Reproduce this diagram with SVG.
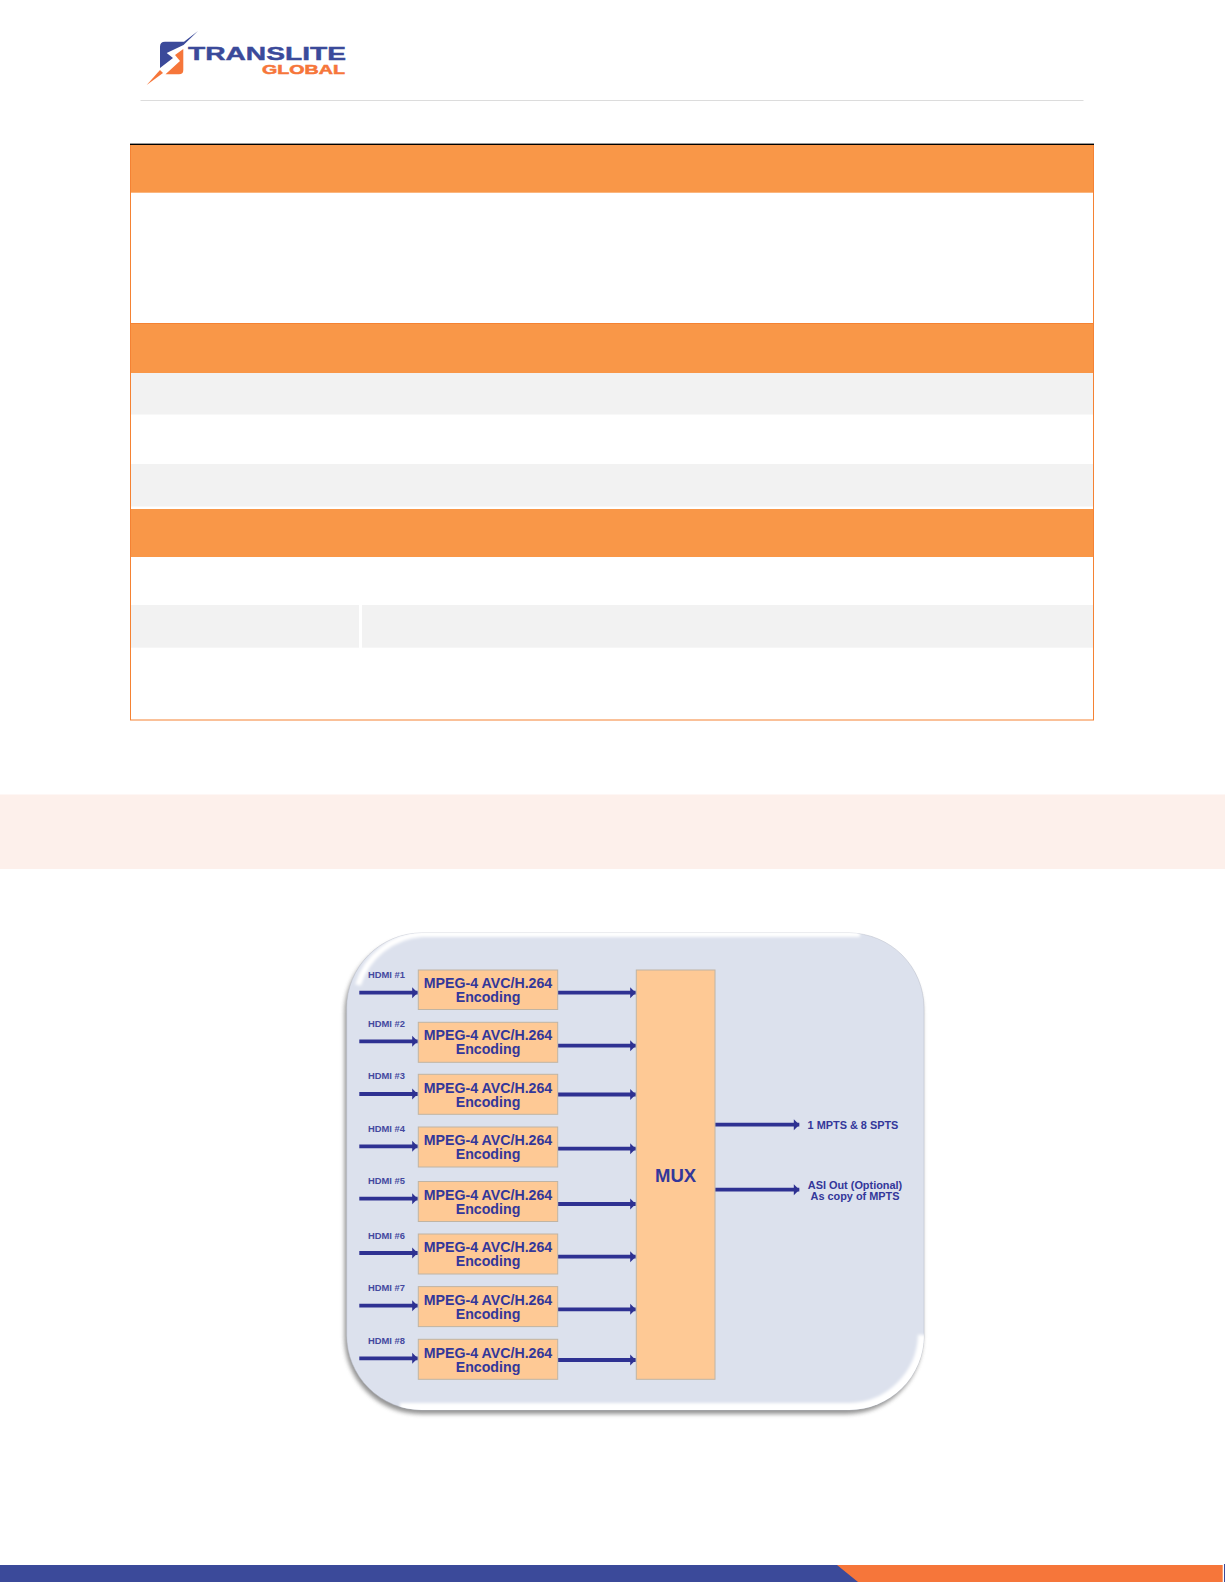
<svg xmlns="http://www.w3.org/2000/svg" width="1225" height="1585" viewBox="0 0 1225 1585">
<style>
.hd{fill:#f99748}
.gr{fill:#f2f2f2}
.box{fill:#fec995;stroke:#c0b4a4;stroke-width:1}
.t{font-family:"Liberation Sans",Arial,sans-serif;font-weight:700;fill:#33379a;text-anchor:middle}
.enc{font-size:14.2px}
.hdmi{font-size:9.4px;fill:#44499f}
.out{font-size:10.9px}
.wire{stroke:#2e3192;stroke-width:3.8;fill:none;marker-end:url(#ah)}
</style>
<defs>
<marker id="ah" markerUnits="userSpaceOnUse" markerWidth="7" markerHeight="13" refX="6" refY="6.5" orient="auto"><path d="M0.5 1L6 6.5L0.5 12Z" fill="#2e3192"/></marker>
<filter id="sh" x="-5%" y="-5%" width="110%" height="110%"><feGaussianBlur stdDeviation="2.2"/></filter>
<filter id="soft" x="-5%" y="-5%" width="110%" height="110%"><feGaussianBlur stdDeviation="1.8"/></filter>
<clipPath id="pc"><rect x="346.7" y="933" width="577.3" height="477" rx="75"/></clipPath>
</defs>
<rect width="1225" height="1585" fill="#fff"/>
<g id="logo">
<path d="M165 41.7H184L198 31L183.5 45L166.7 53L173 58L160 68V46.7Q160 41.7 165 41.7Z" fill="#3b4a9a"/>
<path d="M183.3 49V70Q183.3 74.3 179 74.3H165.5L180 61L175 55Z" fill="#f6763a"/>
<path d="M146.7 85L160 70L163 73Z" fill="#f6763a"/>
<text x="188" y="59.6" font-family="'Liberation Sans',Arial,sans-serif" font-weight="700" font-size="18" fill="#3b4a9a" stroke="#3b4a9a" stroke-width=".4" textLength="158" lengthAdjust="spacingAndGlyphs">TRANSLITE</text>
<text x="262" y="74.4" font-family="'Liberation Sans',Arial,sans-serif" font-weight="700" font-size="12.5" fill="#f6763a" stroke="#f6763a" stroke-width=".5" textLength="83" lengthAdjust="spacingAndGlyphs">GLOBAL</text>
</g>
<rect id="rule" x="140.5" y="100" width="943" height="1" fill="#dcdcdc"/>
<g id="table">
<rect class="hd" x="130.5" y="145" width="963" height="47.7"/>
<rect class="hd" x="130.5" y="323.5" width="963" height="49.5"/>
<rect class="gr" x="130.5" y="373" width="963" height="41.5"/>
<rect class="gr" x="130.5" y="464" width="963" height="42.5"/>
<rect class="hd" x="130.5" y="509" width="963" height="48"/>
<rect class="gr" x="130.5" y="605" width="228.5" height="42.7"/>
<rect class="gr" x="362" y="605" width="731.5" height="42.7"/>
<rect x="130.5" y="144.5" width="963" height="575.5" fill="none" stroke="#f58233" stroke-width="1"/>
<rect x="130" y="143.6" width="964" height="1.4" fill="#000"/>
<rect x="130.5" y="323" width="963" height="1" fill="#f58233"/>
</g>
<rect id="band" x="0" y="794.5" width="1225" height="74.5" fill="#fdf0eb"/>
<g id="panel">
<rect x="344.5" y="937" width="578" height="477" rx="76" fill="#666" opacity=".7" filter="url(#sh)"/>
<rect x="346.7" y="933" width="577.3" height="477" rx="75" fill="#dce1ed" stroke="#b9bdc8" stroke-width=".5"/>
<g clip-path="url(#pc)" fill="none" stroke="#fff">
<path d="M358 985A72 72 0 0 1 422 934H860" stroke-width="6" filter="url(#soft)"/>
<path d="M400 1408H850A75 75 0 0 0 923 1335" stroke-width="10" filter="url(#soft)"/>
</g>
</g>
<g id="connectors">
<path class="wire" d="M359.3 992.7H417.7"/>
<path class="wire" d="M359.3 1041.3H417.7"/>
<path class="wire" d="M359.3 1094H417.7"/>
<path class="wire" d="M359.3 1146.3H417.7"/>
<path class="wire" d="M359.3 1198.7H417.7"/>
<path class="wire" d="M359.3 1253H417.7"/>
<path class="wire" d="M359.3 1305.7H417.7"/>
<path class="wire" d="M359.3 1358.3H417.7"/>
<path class="wire" d="M558 992.7H635.7"/>
<path class="wire" d="M558 1045.7H635.7"/>
<path class="wire" d="M558 1094.5H635.7"/>
<path class="wire" d="M558 1148.7H635.7"/>
<path class="wire" d="M558 1204H635.7"/>
<path class="wire" d="M558 1256.7H635.7"/>
<path class="wire" d="M558 1309.3H635.7"/>
<path class="wire" d="M558 1360H635.7"/>
<path class="wire" d="M715 1124.7H799.3"/>
<path class="wire" d="M715 1189.7H799.3"/>
</g>
<g id="enc1"><rect class="box" x="418.3" y="970" width="139.4" height="39.5"/><text class="t enc" x="488" y="987.7">MPEG-4 AVC/H.264</text><text class="t enc" x="488" y="1001.7">Encoding</text></g>
<g id="enc2"><rect class="box" x="418.3" y="1022.3" width="139.4" height="40"/><text class="t enc" x="488" y="1040.2">MPEG-4 AVC/H.264</text><text class="t enc" x="488" y="1054.2">Encoding</text></g>
<g id="enc3"><rect class="box" x="418.3" y="1074.3" width="139.4" height="40"/><text class="t enc" x="488" y="1092.7">MPEG-4 AVC/H.264</text><text class="t enc" x="488" y="1106.7">Encoding</text></g>
<g id="enc4"><rect class="box" x="418.3" y="1127" width="139.4" height="40"/><text class="t enc" x="488" y="1145.3">MPEG-4 AVC/H.264</text><text class="t enc" x="488" y="1159.3">Encoding</text></g>
<g id="enc5"><rect class="box" x="418.3" y="1181.5" width="139.4" height="40"/><text class="t enc" x="488" y="1199.8">MPEG-4 AVC/H.264</text><text class="t enc" x="488" y="1213.8">Encoding</text></g>
<g id="enc6"><rect class="box" x="418.3" y="1234" width="139.4" height="40"/><text class="t enc" x="488" y="1252.3">MPEG-4 AVC/H.264</text><text class="t enc" x="488" y="1266.3">Encoding</text></g>
<g id="enc7"><rect class="box" x="418.3" y="1286.6" width="139.4" height="40"/><text class="t enc" x="488" y="1304.9">MPEG-4 AVC/H.264</text><text class="t enc" x="488" y="1318.9">Encoding</text></g>
<g id="enc8"><rect class="box" x="418.3" y="1339.3" width="139.4" height="40"/><text class="t enc" x="488" y="1357.6">MPEG-4 AVC/H.264</text><text class="t enc" x="488" y="1371.6">Encoding</text></g>
<g id="mux"><rect class="box" x="636.3" y="970" width="78.7" height="409.3"/><text class="t" x="675.6" y="1181.7" font-size="18.5">MUX</text></g>
<g id="labels">
<text class="t hdmi" x="386.5" y="978.3">HDMI #1</text>
<text class="t hdmi" x="386.5" y="1026.7">HDMI #2</text>
<text class="t hdmi" x="386.5" y="1079.3">HDMI #3</text>
<text class="t hdmi" x="386.5" y="1131.5">HDMI #4</text>
<text class="t hdmi" x="386.5" y="1184">HDMI #5</text>
<text class="t hdmi" x="386.5" y="1238.5">HDMI #6</text>
<text class="t hdmi" x="386.5" y="1291">HDMI #7</text>
<text class="t hdmi" x="386.5" y="1343.7">HDMI #8</text>
<text class="t out" x="853" y="1129">1 MPTS &amp; 8 SPTS</text>
<text class="t out" x="855" y="1189">ASI Out (Optional)</text>
<text class="t out" x="855" y="1199.8">As copy of MPTS</text>
</g>
<g id="footer">
<rect x="0" y="1565" width="860" height="17" fill="#3b4a9a"/>
<path d="M837 1565H1222.7V1582H858Z" fill="#f6763a"/>
<rect x="1224" y="1564" width="1" height="18" fill="#3b4a9a"/>
</g>
</svg>
